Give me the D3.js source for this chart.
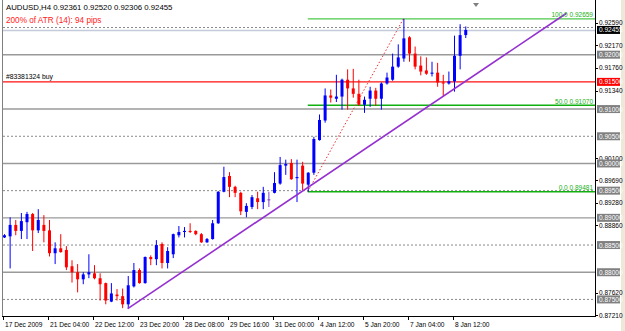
<!DOCTYPE html>
<html>
<head>
<meta charset="utf-8">
<script src="https://cdn.jsdelivr.net/npm/d3@7/dist/d3.min.js"></script>
<style>
  body { margin: 0; background: #fff; }
  svg { display: block; font-family: "Liberation Sans", Arial, sans-serif; }
</style>
</head>
<body>
<svg width="625" height="331"></svg>
<script>
// AUDUSD H4 bars, 17 Dec 2009 20:00 .. 8 Jan 2010 20:00
var barOpen  = [0.8864,0.8866,0.8887,0.8876,0.8892,0.8907,0.8877,0.8887,0.8877,0.8835,
                0.8844,0.8841,0.8811,0.8800,0.8787,0.8796,0.8798,0.8789,0.8780,0.8746,
                0.8759,0.8756,0.8741,0.8774,0.8804,0.8780,0.8828,0.8824,0.8852,0.8817,
                0.8833,0.8868,0.8874,0.8876,0.8876,0.8870,0.8855,0.8861,0.8890,0.8948,
                0.8977,0.8957,0.8946,0.8911,0.8920,0.8936,0.8929,0.8934,0.8946,0.8963,
                0.8996,0.9001,0.8973,0.8996,0.8961,0.8983,0.9043,0.9079,0.9125,0.9119,
                0.9123,0.9154,0.9138,0.9128,0.9108,0.9119,0.9134,0.9119,0.9147,0.9154,
                0.9178,0.9193,0.9232,0.9202,0.9180,0.9171,0.9165,0.9167,0.9149,0.9147,
                0.9151,0.9198,0.92361];
var barHigh  = [0.8870,0.8901,0.8896,0.8909,0.8911,0.8909,0.8916,0.8905,0.8896,0.8855,
                0.8870,0.8848,0.8822,0.8815,0.8800,0.8833,0.8813,0.8798,0.8781,0.8780,
                0.8769,0.8770,0.8793,0.8817,0.8807,0.8829,0.8831,0.8859,0.8855,0.8846,
                0.8871,0.8885,0.8883,0.8890,0.8877,0.8872,0.8863,0.8896,0.8949,0.8994,
                0.8984,0.8959,0.8948,0.8927,0.8942,0.8948,0.8957,0.8948,0.8984,0.9012,
                0.9007,0.9008,0.9007,0.9003,0.8984,0.9049,0.9090,0.9138,0.9136,0.9163,
                0.9156,0.9173,0.9174,0.9154,0.9123,0.9141,0.9139,0.9149,0.9167,0.9202,
                0.9219,0.92659,0.9234,0.9215,0.9197,0.9195,0.9187,0.9185,0.9163,0.9169,
                0.9235,0.9256,0.92520];
var barLow   = [0.8863,0.8807,0.8868,0.8861,0.8861,0.8839,0.8872,0.8855,0.8829,0.8815,
                0.8836,0.8804,0.8781,0.8763,0.8778,0.8789,0.8787,0.8748,0.8741,0.8745,
                0.8748,0.8734,0.8733,0.8772,0.8779,0.8779,0.8813,0.8813,0.8807,0.8807,
                0.8826,0.8864,0.8864,0.8872,0.8868,0.8854,0.8854,0.8860,0.8889,0.8947,
                0.8938,0.8938,0.8905,0.8901,0.8916,0.8916,0.8916,0.8920,0.8945,0.8961,
                0.8979,0.8970,0.8929,0.8951,0.89481,0.8979,0.9042,0.9075,0.9112,0.9113,
                0.9099,0.9099,0.9121,0.9106,0.9093,0.9104,0.9106,0.9099,0.9145,0.9152,
                0.9176,0.9187,0.9187,0.9173,0.9162,0.9163,0.9160,0.9141,0.9123,0.9145,
                0.9132,0.9173,0.92306];
var barClose = [0.8868,0.8887,0.8876,0.8894,0.8907,0.8877,0.8896,0.8876,0.8835,0.8844,
                0.8837,0.8809,0.8800,0.8787,0.8796,0.8800,0.8789,0.8778,0.8748,0.8761,
                0.8756,0.8741,0.8776,0.8804,0.8780,0.8828,0.8824,0.8850,0.8817,0.8839,
                0.8870,0.8874,0.8876,0.8874,0.8870,0.8855,0.8861,0.8890,0.8948,0.8975,
                0.8957,0.8946,0.8912,0.8922,0.8938,0.8929,0.8946,0.8934,0.8964,0.8997,
                0.8999,0.8971,0.8975,0.8963,0.8983,0.9045,0.9080,0.9125,0.9121,0.9123,
                0.9154,0.9138,0.9128,0.9108,0.9117,0.9134,0.9119,0.9147,0.9158,0.9178,
                0.9195,0.9230,0.9202,0.9178,0.9169,0.9165,0.9167,0.9149,0.9147,0.9151,
                0.9198,0.9236,0.92455];

var timeLabels   = ["17 Dec 2009","21 Dec 04:00","22 Dec 12:00","23 Dec 20:00","28 Dec 08:00",
                    "29 Dec 16:00","31 Dec 00:00","4 Jan 12:00","5 Jan 20:00","7 Jan 04:00","8 Jan 12:00"];
var timeLabelBar = [0,8,16,24,32,40,48,56,64,72,80];

// scale labels that are not hidden behind the line labels
var priceTicks = [0.92590,0.92170,0.91760,0.91340,0.90100,
                  0.89690,0.89280,0.88860,0.87620,0.87210];

// user horizontal lines
var gridSolid  = [0.920,0.910,0.900,0.890,0.880];
var gridDashed = [0.925,0.905,0.895,0.885,0.875];
var orderPrice = 0.915, orderLabel = "#83381324 buy";
var bidPrice = 0.92455;

// fibo retracement from bar 54 low to bar 71 high
var fiboBars = [54, 71];
var fiboLevels = [0, 50, 100];
var fiboPrices = [0.89481, 0.91070, 0.92659];

// trendline anchors (bar, price)
var trendBars = [22, 78];
var trendPrices = [0.8733, 0.9123];

var headerText = "AUDUSD,H4  0.92361 0.92520 0.92306 0.92455";
var atrText = "200% of ATR (14): 94 pips";

var svg = d3.select("svg");
var plotLeft = 3, plotRight = 595, plotTop = 1, plotBottom = 316;

var x = d3.scaleLinear().domain([0, 80]).range([4, 454]);
var y = d3.scaleLinear().domain([0.87210, 0.92590]).range([315.2, 22.6]);

var bars = d3.range(barOpen.length).map(function(i) {
  return {i: i, o: barOpen[i], h: barHigh[i], l: barLow[i], c: barClose[i]};
});

svg.append("rect").attr("x", 0).attr("y", 0).attr("width", 625).attr("height", 331).attr("fill", "#fff");
svg.append("rect").attr("x", 621).attr("y", 0).attr("width", 4).attr("height", 331).attr("fill", "#ece9d8");

svg.append("defs").append("clipPath").attr("id", "plot")
  .append("rect").attr("x", plotLeft).attr("y", plotTop)
  .attr("width", plotRight - plotLeft).attr("height", plotBottom - plotTop);

var plot = svg.append("g").attr("clip-path", "url(#plot)");

// horizontal lines
plot.selectAll(".gs").data(gridSolid).enter().append("line")
  .attr("x1", plotLeft).attr("x2", plotRight)
  .attr("y1", function(d) { return y(d); }).attr("y2", function(d) { return y(d); })
  .attr("stroke", "#9a9a9a").attr("stroke-width", 1.4);
plot.selectAll(".gd").data(gridDashed).enter().append("line")
  .attr("x1", plotLeft).attr("x2", plotRight)
  .attr("y1", function(d) { return y(d); }).attr("y2", function(d) { return y(d); })
  .attr("stroke", "#8a8a8a").attr("stroke-width", 1).attr("stroke-dasharray", "2,2");

// bid line
plot.append("line").attr("x1", plotLeft).attr("x2", plotRight)
  .attr("y1", y(bidPrice) + 0.5).attr("y2", y(bidPrice) + 0.5)
  .attr("stroke", "#c4ccdc").attr("stroke-width", 1.6);

// order line
plot.append("line").attr("x1", plotLeft).attr("x2", plotRight)
  .attr("y1", y(orderPrice)).attr("y2", y(orderPrice))
  .attr("stroke", "#ff1010").attr("stroke-width", 1.3);

// fibo levels
plot.selectAll(".fib").data(fiboPrices).enter().append("line")
  .attr("x1", x(fiboBars[0])).attr("x2", plotRight)
  .attr("y1", function(d) { return y(d); }).attr("y2", function(d) { return y(d); })
  .attr("stroke", function(d, i) { return i == 2 ? "#4cc84c" : "#10b010"; })
  .attr("stroke-width", 1.4);
plot.append("line")
  .attr("x1", x(fiboBars[0])).attr("y1", y(fiboPrices[0]))
  .attr("x2", x(fiboBars[1])).attr("y2", y(fiboPrices[2]))
  .attr("stroke", "#f03030").attr("stroke-width", 1).attr("stroke-dasharray", "1.5,2");

// candles
var up = "#0000ff", down = "#ff0000";
function barColor(d) { return d.c > d.o ? up : (d.c < d.o ? down : "#8040c0"); }

var candle = plot.selectAll(".bar").data(bars).enter().append("g");
candle.append("line")
  .attr("x1", function(d) { return x(d.i) + 0.5; }).attr("x2", function(d) { return x(d.i) + 0.5; })
  .attr("y1", function(d) { return y(d.h); }).attr("y2", function(d) { return y(d.l); })
  .attr("stroke", barColor).attr("stroke-width", 1);
candle.append("rect")
  .attr("x", function(d) { return x(d.i) - 1; })
  .attr("y", function(d) { return y(Math.max(d.o, d.c)); })
  .attr("width", 3)
  .attr("height", function(d) { return Math.max(1, Math.abs(y(d.o) - y(d.c))); })
  .attr("fill", barColor);

// trendline (ray)
var slope = (trendPrices[1] - trendPrices[0]) / (trendBars[1] - trendBars[0]);
var endBar = 100;
plot.append("line")
  .attr("x1", x(trendBars[0])).attr("y1", y(trendPrices[0]))
  .attr("x2", x(endBar)).attr("y2", y(trendPrices[0] + slope * (endBar - trendBars[0])))
  .attr("stroke", "#9530d0").attr("stroke-width", 1.6);

// labels in plot
svg.append("text").attr("x", 6).attr("y", 10).attr("font-size", 7.8).attr("fill", "#000").text(headerText);
svg.append("text").attr("x", 6).attr("y", 23).attr("font-size", 8.2).attr("fill", "#ff2020").text(atrText);
svg.append("text").attr("x", 6).attr("y", y(orderPrice) - 3).attr("font-size", 6.8).attr("fill", "#000").text(orderLabel);

svg.selectAll(".fibl").data(fiboPrices).enter().append("text")
  .attr("x", plotRight - 2).attr("y", function(d) { return y(d) - 1.5; })
  .attr("text-anchor", "end").attr("font-size", 6.5).attr("fill", "#20b020")
  .text(function(d, i) { return fiboLevels[i].toFixed(1) + " " + d.toFixed(5); });

// shift marker
svg.append("path").attr("d", "M473,3 L479,3 L476,7 Z").attr("fill", "#808080");

// frame
svg.append("line").attr("x1", plotLeft - 0.5).attr("x2", plotLeft - 0.5).attr("y1", 0).attr("y2", plotBottom).attr("stroke", "#808080");
svg.append("line").attr("x1", plotLeft - 1).attr("x2", plotRight).attr("y1", plotBottom + 0.5).attr("y2", plotBottom + 0.5).attr("stroke", "#000");
svg.append("line").attr("x1", plotRight + 0.5).attr("x2", plotRight + 0.5).attr("y1", 0).attr("y2", plotBottom + 1).attr("stroke", "#000");

// time axis
var tAxis = svg.append("g");
tAxis.selectAll("line").data(timeLabelBar).enter().append("line")
  .attr("x1", function(d) { return x(d) - 0.5; }).attr("x2", function(d) { return x(d) - 0.5; })
  .attr("y1", plotBottom).attr("y2", plotBottom + 4).attr("stroke", "#000");
tAxis.selectAll("text").data(timeLabelBar).enter().append("text")
  .attr("x", function(d) { return x(d) + 1; }).attr("y", plotBottom + 11)
  .attr("font-size", 6.6).attr("fill", "#000")
  .text(function(d, i) { return timeLabels[i]; });

// price axis
var pAxis = svg.append("g");
pAxis.selectAll("line").data(priceTicks).enter().append("line")
  .attr("x1", plotRight).attr("x2", plotRight + 3)
  .attr("y1", function(d) { return Math.round(y(d)) + 0.5; }).attr("y2", function(d) { return Math.round(y(d)) + 0.5; })
  .attr("stroke", "#000");
pAxis.selectAll("text").data(priceTicks).enter().append("text")
  .attr("x", plotRight + 4).attr("y", function(d) { return y(d) + 2.5; })
  .attr("font-size", 6.5).attr("fill", "#000")
  .text(function(d) { return d.toFixed(5); });

// boxed level labels (0.925 sits under the bid label)
var boxes = gridSolid.concat(gridDashed.slice(1)).map(function(p) { return {p: p, bg: "#808080", fg: "#fff"}; });
boxes.push({p: orderPrice, bg: "#ff0000", fg: "#fff"});
boxes.push({p: bidPrice, bg: "#000", fg: "#fff"});
var bx = pAxis.selectAll(".box").data(boxes).enter().append("g");
bx.append("rect").attr("x", plotRight + 2).attr("y", function(d) { return y(d.p) - 4; })
  .attr("width", 23).attr("height", 8).attr("fill", function(d) { return d.bg; });
bx.append("text").attr("x", plotRight + 4).attr("y", function(d) { return y(d.p) + 2.5; })
  .attr("font-size", 6.5).attr("fill", function(d) { return d.fg; })
  .text(function(d) { return d.p.toFixed(5); });
</script>
</body>
</html>
